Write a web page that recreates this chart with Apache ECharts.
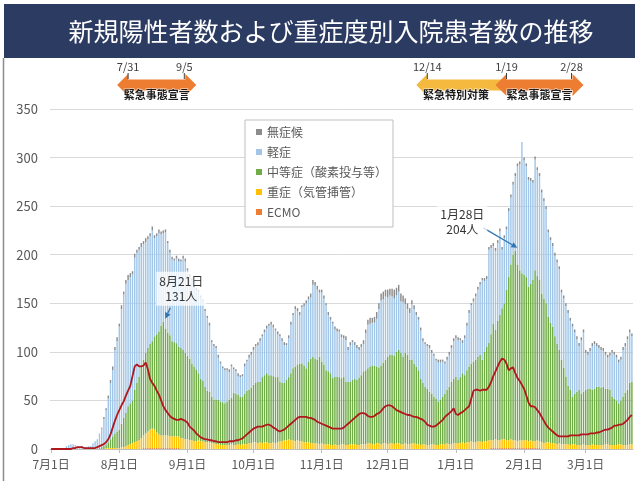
<!DOCTYPE html>
<html>
<head>
<meta charset="utf-8">
<script src="https://cdn.jsdelivr.net/npm/echarts@6/dist/echarts.min.js"></script>
<style>
html, body { margin: 0; padding: 0; background: #fff; }
#main { width: 635px; height: 481px; }
</style>
</head>
<body>
<div id="main"></div>
<script>
// 対象期間：7月1日〜3月22日（月, 日数）
var monthSpans = [[7, 31], [8, 31], [9, 30], [10, 31], [11, 30], [12, 31], [1, 31], [2, 28], [3, 22]];
var yTicks = [0, 50, 100, 150, 200, 250, 300, 350];

// 無症候
var asymptomatic = [
  0,0,0,0,0,0,0,0,0,0,0,0,0,0,0,0,0,0,0,0,0,0,0,1,2,2,3,3,4,3,4,
  3,4,3,4,5,4,3,4,3,3,4,3,4,3,3,4,3,3,4,3,3,3,2,3,3,2,3,3,2,3,3,
  2,3,2,2,3,2,2,2,2,2,3,2,2,2,3,2,2,2,2,3,2,2,2,3,2,2,3,2,3,3,
  3,2,3,3,2,3,3,2,3,3,2,3,2,3,3,2,3,3,2,3,3,3,2,3,3,3,4,5,4,4,3,
  3,3,2,3,3,2,3,3,2,3,3,4,3,3,2,3,3,3,3,4,4,5,6,5,6,7,6,7,8,7,
  8,7,8,9,8,7,8,7,6,6,5,4,4,3,3,3,3,2,2,3,3,2,2,3,3,2,2,3,3,3,3,
  3,3,2,3,3,3,3,2,3,3,3,3,2,3,3,3,3,3,3,3,3,3,3,3,3,3,3,3,3,3,0,
  3,3,3,3,3,3,3,3,3,3,3,3,3,3,3,3,3,3,3,3,3,3,3,3,3,3,3,3,
  3,3,3,3,3,3,3,3,3,3,3,3,3,3,3,3,3,3,3,3,3,3
];
// 軽症
var mild = [
  0,0,0,0,0,0,1,3,4,5,5,4,3,2,3,2,2,3,3,6,8,10,15,19,28,35,45,58,68,86,93,
  106,118,127,133,130,130,130,136,134,131,123,119,114,112,111,114,101,101,101,94,91,99,92,85,84,84,87,88,89,94,94,
  88,84,86,81,81,84,84,82,78,75,68,56,55,53,43,39,35,34,32,28,32,24,23,19,20,21,28,30,33,34,
  36,38,38,42,42,44,46,51,52,50,48,44,47,43,39,36,40,50,55,59,55,50,58,61,67,64,63,74,75,72,66,
  71,68,67,58,55,56,49,47,47,42,40,43,33,38,39,35,33,29,29,28,38,45,44,44,44,49,60,67,65,65,
  61,61,60,59,58,60,53,56,50,47,48,57,56,53,52,50,43,44,44,45,42,42,39,40,38,36,31,31,33,35,39,
  40,41,38,31,38,46,55,60,62,65,69,72,82,73,70,96,89,80,81,80,86,60,67,62,68,69,72,77,101,109,135,
  118,114,110,106,100,114,109,107,104,100,97,87,85,83,83,84,83,69,71,73,75,71,72,63,54,45,55,61,
  38,35,39,45,46,42,40,39,37,35,32,35,45,45,44,42,42,48,48,52,52,47
];
// 中等症（酸素投与等）
var moderate = [
  0,0,0,0,0,0,0,0,0,0,0,0,0,0,0,0,0,0,0,0,0,0,1,2,3,4,6,9,12,15,17,
  19,24,30,34,40,42,44,54,60,65,74,78,83,86,88,90,96,101,106,113,117,110,106,104,98,97,96,92,93,91,89,
  86,84,79,77,74,69,64,62,57,53,52,48,45,46,46,45,44,43,45,47,48,54,53,51,50,49,52,55,55,57,
  59,61,63,62,68,69,71,70,70,68,68,67,61,60,59,62,64,69,74,77,78,80,80,79,76,83,87,89,87,86,90,
  84,82,76,75,74,69,69,70,70,68,69,65,65,64,66,67,67,69,71,75,76,77,79,81,81,79,78,81,83,86,
  90,91,91,91,94,96,94,90,93,92,87,86,82,80,76,68,63,59,58,55,52,49,48,45,46,49,52,55,59,64,66,
  68,65,68,71,70,74,78,80,83,85,87,89,85,92,97,100,109,120,113,123,129,135,140,155,168,180,191,195,182,175,172,
  170,168,159,161,166,176,169,166,153,149,143,129,124,120,110,103,96,87,79,69,60,57,49,52,55,57,53,54,
  57,58,58,56,58,60,60,59,60,57,57,57,50,48,46,42,45,50,54,57,63,64
];
// 重症（気管挿管）
var severe = [
  0,0,0,0,0,0,0,0,0,0,0,0,0,0,0,0,0,0,0,0,0,0,0,0,0,1,1,1,1,1,1,
  1,2,2,3,4,5,6,7,8,9,11,13,15,17,19,20,19,16,14,13,13,13,13,12,12,12,12,12,11,11,10,
  10,9,9,8,8,9,8,8,7,7,7,6,6,5,5,4,4,4,4,4,5,4,4,5,4,5,5,5,6,6,
  7,7,6,7,6,7,7,6,6,7,6,7,8,8,9,9,10,9,9,8,9,8,8,7,7,7,6,6,6,6,5,
  6,5,5,5,4,4,5,4,4,5,5,4,4,5,5,5,4,4,5,5,5,6,6,5,5,6,6,5,6,6,
  5,6,6,5,6,6,5,5,6,5,5,6,6,5,5,4,5,5,4,4,5,5,4,4,5,5,5,6,5,5,6,
  6,6,6,7,6,7,7,8,7,7,8,8,7,8,8,9,8,8,9,8,8,9,9,8,8,9,8,8,7,8,8,
  8,8,7,8,7,7,8,7,7,6,7,7,6,6,6,5,6,5,5,5,5,4,5,5,4,4,4,5,
  4,4,4,5,4,4,4,4,4,5,5,4,4,4,4,5,5,4,4,4,5,5
];
// ECMO
var ecmo = [
  0,0,0,0,0,0,0,0,0,0,0,0,0,0,0,0,0,0,0,0,0,0,0,0,0,0,0,0,0,0,0,
  0,0,0,0,0,0,0,0,0,0,0,1,1,1,1,1,1,1,1,1,1,1,1,1,1,1,1,1,0,0,0,
  0,0,0,0,0,0,0,0,0,0,0,0,0,0,0,0,0,0,0,0,0,0,0,0,0,0,0,0,0,0,
  0,0,0,0,0,0,0,0,0,0,0,0,0,0,0,0,0,0,0,0,0,0,0,0,0,0,0,0,0,0,0,
  0,0,0,0,0,0,0,0,0,0,0,0,0,0,0,0,0,0,0,0,0,0,0,0,0,0,0,0,0,0,
  0,0,0,0,0,0,0,0,0,0,0,0,0,0,0,0,0,0,0,0,0,0,0,0,0,0,0,0,0,0,0,
  0,0,0,0,0,0,0,0,0,0,0,0,0,0,0,0,1,1,1,1,1,1,1,1,1,1,1,1,1,1,1,
  1,1,1,1,1,1,1,1,0,0,0,0,0,0,0,0,0,0,0,0,0,0,0,0,0,0,0,0,
  0,0,0,0,0,0,0,0,0,0,0,0,0,0,0,0,0,0,0,0,0,0
];
// 新規陽性者数（赤線）
var newCases = [
  0,0,0,0,0,0,0,0,0,0,1,1,2,2,2,1,1,1,1,1,1,2,3,4,5,7,10,15,22,29,35,
  40,45,49,55,60,65,75,85,87,85,85,86,89,82,72,68,65,60,56,50,44,40,37,34,32,31,30,30,31,30,29,
  27,23,21,19,16,14,12,11,10,10,9,9,8,8,7,7,7,7,7,8,8,8,9,9,10,11,13,15,17,19,
  21,22,23,23,23,24,25,25,24,22,21,19,18,19,20,22,24,26,28,30,32,33,33,33,33,32,32,31,30,28,27,
  26,25,24,23,22,21,21,21,21,21,22,24,26,28,30,32,34,36,37,37,36,34,33,33,34,36,37,39,42,44,
  45,45,44,42,40,39,38,37,36,35,35,34,33,33,32,31,30,28,25,24,23,23,24,26,28,30,33,35,37,39,42,
  36,35,37,38,40,42,44,52,60,61,61,60,61,61,61,64,69,75,80,85,90,93,92,88,81,83,84,78,73,70,66,
  62,55,48,44,44,43,40,37,33,29,25,22,20,18,16,14,13,13,13,13,13,14,14,14,14,14,15,15,
  15,15,16,16,16,17,17,18,19,20,20,21,22,24,24,25,25,26,28,30,33,35
];

// 期間の矢印
var periods = [
  { from: '7月31日', to: '9月5日', fromText: '7/31', toText: '9/5', name: '緊急事態宣言', color: '#ed7d31', rightHead: true },
  { from: '12月14日', to: '1月19日', fromText: '12/14', toText: '', name: '緊急特別対策', color: '#f4b93e', rightHead: false },
  { from: '1月19日', to: '2月28日', fromText: '1/19', toText: '2/28', name: '緊急事態宣言', color: '#ed7d31', rightHead: true }
];
var callouts = [
  { date: '8月21日', value: 131, text: '8月21日\n131人', dx: 18, dy: -33, ax: 7, ay: -14 },
  { date: '1月28日', value: 204, text: '1月28日\n204人', dx: -53, dy: -29, ax: -32, ay: -23 }
];

var days = [];
monthSpans.forEach(function (m) {
  for (var d = 1; d <= m[1]; d++) days.push(m[0] + '月' + d + '日');
});
function isFirst(i, v) { return /^\d+月1日$/.test(v); }

var FONT = "'Noto Sans CJK JP', sans-serif";
var chart = echarts.init(document.getElementById('main'));

function barSeries(name, data, color) {
  return {
    name: name, type: 'bar', stack: 'total', data: data,
    barCategoryGap: '34%',
    itemStyle: { color: color },
    emphasis: { disabled: true }
  };
}

var option = {
  animation: false,
  textStyle: { fontFamily: FONT },
  grid: { left: 50, right: 2, top: 109, bottom: 32, containLabel: false, outerBoundsMode: 'none' },
  legend: {
    data: ['無症候', '軽症', '中等症（酸素投与等）', '重症（気管挿管）', 'ECMO'],
    orient: 'vertical',
    left: 245, top: 120,
    icon: 'rect', itemWidth: 6, itemHeight: 6, itemGap: 6,
    padding: [5, 6, 8, 11],
    backgroundColor: '#fff', borderColor: '#bfbfbf', borderWidth: 1,
    textStyle: { color: '#595959', fontSize: 12, lineHeight: 14, fontFamily: FONT }
  },
  xAxis: {
    type: 'category', data: days, boundaryGap: true,
    axisLine: { lineStyle: { color: '#bfbfbf' } },
    axisTick: { show: true, alignWithLabel: true, interval: isFirst, length: 4, lineStyle: { color: '#bfbfbf' } },
    axisLabel: { interval: isFirst, color: '#595959', fontSize: 12, margin: 9, fontFamily: FONT },
    splitLine: { show: false }
  },
  yAxis: {
    type: 'value', min: yTicks[0], max: yTicks[yTicks.length - 1], interval: 50,
    axisLine: { show: false }, axisTick: { show: false },
    axisLabel: { color: '#595959', fontSize: 13, margin: 12, fontFamily: FONT },
    splitLine: { lineStyle: { color: '#d9d9d9' } }
  },
  series: [
    barSeries('ECMO', ecmo, '#ed7d31'),
    barSeries('重症（気管挿管）', severe, '#ffc000'),
    barSeries('中等症（酸素投与等）', moderate, '#70ad47'),
    barSeries('軽症', mild, '#a2c6e7'),
    barSeries('無症候', asymptomatic, '#8c8c8c'),
    {
      name: '新規陽性者数', type: 'line', data: newCases,
      symbol: 'none', z: 5,
      lineStyle: { color: '#b0181e', width: 1.8 },
      emphasis: { disabled: true }
    }
  ]
};
chart.setOption(option);

// 注記（タイトル・矢印・吹き出し）
function xOf(day) { return chart.convertToPixel({ xAxisIndex: 0 }, day); }

function arrowPoints(x1, x2, cy, rightHead) {
  var b = 5.5, H = 11, h = 11;
  var pts = [[x1, cy], [x1 + h, cy - H], [x1 + h, cy - b]];
  if (rightHead) {
    pts.push([x2 - h, cy - b], [x2 - h, cy - H], [x2, cy], [x2 - h, cy + H], [x2 - h, cy + b]);
  } else {
    pts.push([x2, cy - b], [x2, cy + b]);
  }
  pts.push([x1 + h, cy + b], [x1 + h, cy + H]);
  return pts;
}

var g = [];
g.push({ type: 'rect', shape: { x: 4, y: 4, width: 631, height: 54 }, style: { fill: '#2c3b62' }, z: 100 });
g.push({ type: 'text', x: 331, y: 31, z: 101, style: {
  text: '新規陽性者数および重症度別入院患者数の推移', fill: '#fff',
  font: '25px ' + FONT, align: 'center', verticalAlign: 'middle' } });
g.push({ type: 'line', shape: { x1: 3.5, y1: 58, x2: 3.5, y2: 481 }, style: { stroke: '#8c8c8c', lineWidth: 1.5 }, z: 100 });

var cy = 85;
periods.forEach(function (p) {
  var x1 = xOf(p.from), x2 = xOf(p.to);
  if (!p.rightHead) x2 += 6;
  g.push({ type: 'polygon', shape: { points: arrowPoints(x1, x2, cy, p.rightHead) }, style: { fill: p.color }, z: 100 });
  var xe = p.rightHead ? x2 : x2 - 6;
  g.push({ type: 'text', x: (x1 + xe) / 2, y: 95, z: 102, style: {
    text: p.name, fill: '#1a1a1a', font: 'bold 11px ' + FONT, align: 'center', verticalAlign: 'middle',
    stroke: 'rgba(255,255,255,0.6)', lineWidth: 1.5 } });
  var labs = [[x1 + 11, p.fromText]];
  if (p.toText) labs.push([x2 - 12, p.toText]);
  labs.forEach(function (l) {
    g.push({ type: 'text', x: l[0], y: 67, z: 102, style: {
      text: l[1], fill: '#404040', font: '11px ' + FONT, align: 'center', verticalAlign: 'middle' } });
    g.push({ type: 'line', shape: { x1: l[0], y1: 73, x2: l[0], y2: 79 }, style: { stroke: '#404040', lineWidth: 1 }, z: 101 });
  });
});

callouts.forEach(function (c) {
  var p = chart.convertToPixel({ xAxisIndex: 0, yAxisIndex: 0 }, [c.date, c.value]);
  var ex = p[0] + 2, ey = p[1] - 3;
  var sx = p[0] + c.ax, sy = p[1] + c.ay;
  var ang = Math.atan2(ey - sy, ex - sx), L = 6, W = 3;
  var bx = ex - L * Math.cos(ang), by = ey - L * Math.sin(ang);
  g.push({ type: 'line', shape: { x1: sx, y1: sy, x2: bx, y2: by }, style: { stroke: '#2e75b6', lineWidth: 1.3 }, z: 103 });
  g.push({ type: 'polygon', z: 103, shape: { points: [[ex, ey],
    [bx + W * Math.sin(ang), by - W * Math.cos(ang)], [bx - W * Math.sin(ang), by + W * Math.cos(ang)]] },
    style: { fill: '#2e75b6' } });
  g.push({ type: 'text', x: p[0] + c.dx, y: p[1] + c.dy, z: 103, style: {
    text: c.text, fill: '#333', font: '12px ' + FONT, align: 'center', verticalAlign: 'middle',
    lineHeight: 15, backgroundColor: 'rgba(255,255,255,0.75)', padding: [2, 3] } });
});

chart.setOption({ graphic: g });
</script>
</body>
</html>
